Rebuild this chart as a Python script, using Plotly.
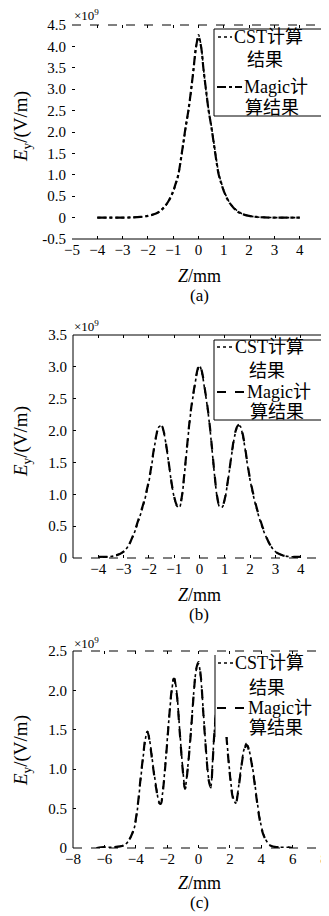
import plotly.graph_objects as go

OFF = 8  # page body margin in the browser (page content starts 8px in)
W, H = 329, 916

# ---------------- data (values in units of 1e9 V/m) ----------------
# Panel (a)
xa = [-4, -3.5, -3, -2.6, -2.3, -2.0, -1.8, -1.6, -1.4, -1.2, -1.0, -0.9, -0.8, -0.7, -0.6,
      -0.5, -0.4, -0.3, -0.2, -0.1, 0, 0.1, 0.2, 0.3, 0.4, 0.5, 0.6, 0.7, 0.8, 0.9, 1.0,
      1.2, 1.4, 1.6, 1.8, 2.0, 2.3, 2.6, 3, 3.5, 4]
cst_a = [0, 0, 0, 0.005, 0.015, 0.04, 0.07, 0.12, 0.21, 0.36, 0.6, 0.78, 0.98, 1.32, 1.72,
         2.12, 2.48, 2.93, 3.45, 3.95, 4.27, 4.02, 3.47, 2.95, 2.52, 2.17, 1.78, 1.38, 1.03, 0.82, 0.64,
         0.38, 0.23, 0.13, 0.07, 0.04, 0.015, 0.005, 0, 0, 0]
magic_a = [0, 0, 0, 0.005, 0.015, 0.04, 0.07, 0.12, 0.22, 0.37, 0.62, 0.8, 1.0, 1.35, 1.75,
           2.15, 2.5, 2.95, 3.45, 3.98, 4.22, 4.0, 3.45, 2.97, 2.5, 2.15, 1.75, 1.35, 1.0, 0.8, 0.62,
           0.37, 0.22, 0.12, 0.07, 0.04, 0.015, 0.005, 0, 0, 0]

# Panel (b)
xb = [-4, -3.6, -3.3, -3.0, -2.8, -2.6, -2.4, -2.2, -2.0, -1.9, -1.8, -1.7, -1.6, -1.5, -1.4,
      -1.3, -1.2, -1.1, -1.0, -0.9, -0.8, -0.7, -0.6, -0.5, -0.4, -0.3, -0.2, -0.1, 0,
      0.1, 0.2, 0.3, 0.4, 0.5, 0.6, 0.7, 0.8, 0.9, 1.0, 1.1, 1.2, 1.3, 1.4, 1.5, 1.6, 1.7,
      1.8, 1.9, 2.0, 2.2, 2.4, 2.6, 2.8, 3.0, 3.3, 3.6, 4]
cst_b = [0.02, 0.02, 0.04, 0.1, 0.2, 0.37, 0.6, 0.86, 1.2, 1.43, 1.7, 1.92, 2.06, 2.07, 1.95,
         1.72, 1.44, 1.16, 0.95, 0.82, 0.79, 0.95, 1.3, 1.7, 2.1, 2.42, 2.67, 2.9, 3.02,
         2.9, 2.66, 2.4, 2.08, 1.68, 1.28, 0.95, 0.8, 0.8, 0.92, 1.15, 1.42, 1.7, 1.93, 2.05, 2.07, 1.94,
         1.72, 1.45, 1.22, 0.86, 0.58, 0.36, 0.2, 0.1, 0.04, 0.02, 0.02]
magic_b = [0.02, 0.02, 0.04, 0.1, 0.2, 0.38, 0.62, 0.88, 1.22, 1.45, 1.72, 1.94, 2.08, 2.08, 1.96,
           1.73, 1.45, 1.17, 0.96, 0.83, 0.8, 0.96, 1.32, 1.72, 2.12, 2.44, 2.69, 2.92, 3.04,
           2.92, 2.68, 2.42, 2.1, 1.7, 1.3, 0.96, 0.81, 0.81, 0.93, 1.16, 1.43, 1.72, 1.95, 2.07, 2.09, 1.96,
           1.74, 1.47, 1.24, 0.88, 0.6, 0.37, 0.2, 0.1, 0.04, 0.02, 0.02]

# Panel (c)
xc = [-6.5, -6, -5.5, -5, -4.7, -4.5, -4.3, -4.1, -3.9, -3.7, -3.5, -3.35, -3.25, -3.1, -2.9,
      -2.7, -2.5, -2.4, -2.3, -2.1, -1.9, -1.7, -1.56, -1.4, -1.2, -1.0, -0.86, -0.7, -0.5,
      -0.3, -0.15, 0, 0.15, 0.3, 0.5, 0.65, 0.78, 0.9, 1.0, 1.15, 1.3, 1.5, 1.65, 1.8, 2.0,
      2.2, 2.37, 2.5, 2.7, 2.9, 3.07, 3.3, 3.5, 3.7, 3.9, 4.1, 4.3, 4.6, 5, 5.5, 6]
cst_c = [0, 0.01, 0.01, 0.02, 0.04, 0.08, 0.15, 0.25, 0.48, 0.85, 1.2, 1.42, 1.48, 1.35, 1.05,
         0.78, 0.58, 0.57, 0.68, 1.1, 1.6, 2.0, 2.17, 2.0, 1.5, 1.0, 0.76, 1.0, 1.45,
         1.98, 2.25, 2.34, 2.15, 1.75, 1.2, 0.88, 0.78, 1.1, 1.45, 1.8, 2.0, 2.08, 1.8, 1.39, 0.95,
         0.65, 0.57, 0.7, 1.0, 1.25, 1.33, 1.18, 0.95, 0.65, 0.38, 0.2, 0.1, 0.03, 0.01, 0.01, 0]
magic_c = [0, 0.01, 0.01, 0.02, 0.04, 0.08, 0.15, 0.26, 0.5, 0.87, 1.22, 1.44, 1.47, 1.33, 1.03,
           0.76, 0.57, 0.56, 0.67, 1.08, 1.58, 2.02, 2.15, 1.98, 1.48, 0.98, 0.75, 0.98, 1.43,
           1.96, 2.27, 2.36, 2.17, 1.73, 1.18, 0.86, 0.77, 1.08, 1.43, 1.78, 1.98, 2.06, 1.78, 1.37, 0.93,
           0.63, 0.56, 0.68, 0.98, 1.23, 1.31, 1.16, 0.93, 0.63, 0.36, 0.19, 0.1, 0.03, 0.01, 0.01, 0]

# tick labels
yticks_a = [-0.5, 0, 0.5, 1.0, 1.5, 2.0, 2.5, 3.0, 3.5, 4.0, 4.5]
ytext_a = ["-0.5", "0", "0.5", "1.0", "1.5", "2.0", "2.5", "3.0", "3.5", "4.0", "4.5"]
xticks_a = [-5, -4, -3, -2, -1, 0, 1, 2, 3, 4, 5]
yticks_b = [0, 0.5, 1.0, 1.5, 2.0, 2.5, 3.0, 3.5]
ytext_b = ["0", "0.5", "1.0", "1.5", "2.0", "2.5", "3.0", "3.5"]
xticks_b = [-4, -3, -2, -1, 0, 1, 2, 3, 4]
yticks_c = [0, 0.5, 1.0, 1.5, 2.0, 2.5]
ytext_c = ["0", "0.5", "1.0", "1.5", "2.0", "2.5"]
xticks_c = [-8, -6, -4, -2, 0, 2, 4, 6, 8]

cst_lines = ["CST计算", "结果"]
magic_lines = ["Magic计", "算结果"]
panel_tags = ["(a)", "(b)", "(c)"]

FONT = "Liberation Serif, Times New Roman, Noto Sans CJK SC, serif"
BLACK = "black"


def px_x(p):
    return (p - OFF) / W


def px_y(p):
    return 1 - (p - OFF) / H


fig = go.Figure()

panels = [
    ("", xa, cst_a, magic_a, "dashdot", [-5, 5], [-0.5, 4.5], xticks_a, yticks_a, ytext_a,
     (72, 325, 25, 239)),
    ("2", xb, cst_b, magic_b, "dash", [-5, 5], [0, 3.5], xticks_b, yticks_b, ytext_b,
     (73, 326, 335, 558)),
    ("3", xc, cst_c, magic_c, "dash", [-8, 8], [0, 2.5], xticks_c, yticks_c, ytext_c,
     (73, 324, 651, 848)),
]

for suf, x, cst, mag, mdash, xr, yr, xt, yt, ytt, box in panels:
    xa_name = "x" + suf
    ya_name = "y" + suf
    fig.add_trace(go.Scatter(x=x, y=cst, mode="lines", name="CST计算结果", showlegend=False,
                             line=dict(color=BLACK, width=1.6, dash="dot", shape="spline"),
                             xaxis=xa_name, yaxis=ya_name))
    fig.add_trace(go.Scatter(x=x, y=mag, mode="lines", name="Magic计算结果", showlegend=False,
                             line=dict(color=BLACK, width=2.2, dash=mdash, shape="spline"),
                             xaxis=xa_name, yaxis=ya_name))
    l, r, t, b = box
    ax_common = dict(showgrid=False, zeroline=False, showline=False, ticks="inside", ticklen=3,
                     tickcolor=BLACK, tickfont=dict(family=FONT, size=15, color=BLACK),
                     mirror="ticks", automargin=False)
    fig.update_layout(**{
        "xaxis" + suf: dict(domain=[px_x(l), px_x(r)], range=xr, tickvals=xt,
                            anchor=ya_name, **ax_common),
        "yaxis" + suf: dict(domain=[px_y(b), px_y(t)], range=yr, tickvals=yt, ticktext=ytt,
                            anchor=xa_name, ticklabelstandoff=5, **ax_common),
    })

# frame lines (scan-like styles)
frame_styles = {
    "": dict(top="dash", bottom="solid"),
    "2": dict(top="solid", bottom="dash", right="dot", left="solid"),
    "3": dict(top="dash", bottom="dash", left="solid"),
}
segs = {"top": (0, 1, 1, 1), "bottom": (0, 0, 1, 0), "right": (1, 0, 1, 1), "left": (0, 0, 0, 1)}
shapes = []
for suf, st in frame_styles.items():
    for side, dash in st.items():
        x0, y0, x1, y1 = segs[side]
        shapes.append(dict(type="line", xref="x" + suf + " domain", yref="y" + suf + " domain",
                           x0=x0, y0=y0, x1=x1, y1=y1,
                           line=dict(color=BLACK, width=1, dash=dash), layer="above"))

annotations = []


def txt(s, x, y, size, xanchor="center", yanchor="middle", angle=0):
    annotations.append(dict(text=s, x=px_x(x), y=px_y(y), xref="paper", yref="paper",
                            xanchor=xanchor, yanchor=yanchor, textangle=angle, showarrow=False,
                            font=dict(family=FONT, size=size, color=BLACK)))


# manual legends
legends = [
    ((214, 325, 29, 116, True), (218, 232, 37), (232, 37), (245, 60), (217, 242, 87), (242, 87), (243, 108), "dashdot"),
    ((214, 322, 340, 420, True), (217, 233, 347), (233, 347), (247, 371), (217, 245, 392), (245, 392), (248, 412), "dash"),
    ((215, 322, 655, 737, False), (218, 233, 663), (233, 663), (247, 688), (217, 246, 708), (246, 708), (247, 728), "dash"),
]
for (bl, br, bt, bb, border), cs, ct, ct2, ms, mt, mt2, mdash in legends:
    shapes.append(dict(type="rect", xref="paper", yref="paper", x0=px_x(bl), x1=px_x(br),
                       y0=px_y(bb), y1=px_y(bt), fillcolor="white",
                       line=dict(color=BLACK, width=1 if border else 0), layer="above"))
    if not border:
        shapes.append(dict(type="line", xref="paper", yref="paper", x0=px_x(bl), x1=px_x(bl),
                           y0=px_y(bb), y1=px_y(bt), line=dict(color=BLACK, width=1), layer="above"))
        shapes.append(dict(type="line", xref="paper", yref="paper", x0=px_x(br), x1=px_x(br),
                           y0=px_y(bb), y1=px_y(bt), line=dict(color="#777", width=2), layer="above"))
    shapes.append(dict(type="line", xref="paper", yref="paper", x0=px_x(cs[0]), x1=px_x(cs[1]),
                       y0=px_y(cs[2]), y1=px_y(cs[2]), line=dict(color=BLACK, width=1.4, dash="dot"),
                       layer="above"))
    shapes.append(dict(type="line", xref="paper", yref="paper", x0=px_x(ms[0]), x1=px_x(ms[1]),
                       y0=px_y(ms[2]), y1=px_y(ms[2]), line=dict(color=BLACK, width=2, dash=mdash),
                       layer="above"))
    txt(cst_lines[0], ct[0], ct[1], 18, xanchor="left")
    txt(cst_lines[1], ct2[0], ct2[1], 18, xanchor="left")
    txt(magic_lines[0], mt[0], mt[1], 18, xanchor="left")
    txt(magic_lines[1], mt2[0], mt2[1], 18, xanchor="left")

# axis titles, panel tags, exponent labels
for tag, zy, ly, ey, cy in zip(panel_tags, [276, 595, 883], [295, 614, 902], [15, 326, 643], [127, 442, 751]):
    txt("<i>Z</i>/mm", 199, zy, 18)
    txt(tag, 199, ly, 17)
    txt("×10<sup>9</sup>", 72, ey, 13, xanchor="left")
    txt("<i>E</i><sub>y</sub>/(V/m)", 22, cy, 19, angle=-90)

fig.update_layout(
    template="none",
    width=W, height=H, margin=dict(l=0, r=0, t=0, b=0, pad=0),
    paper_bgcolor="white", plot_bgcolor="white",
    showlegend=False,
    shapes=shapes, annotations=annotations,
)

fig.write_html("out.html")
